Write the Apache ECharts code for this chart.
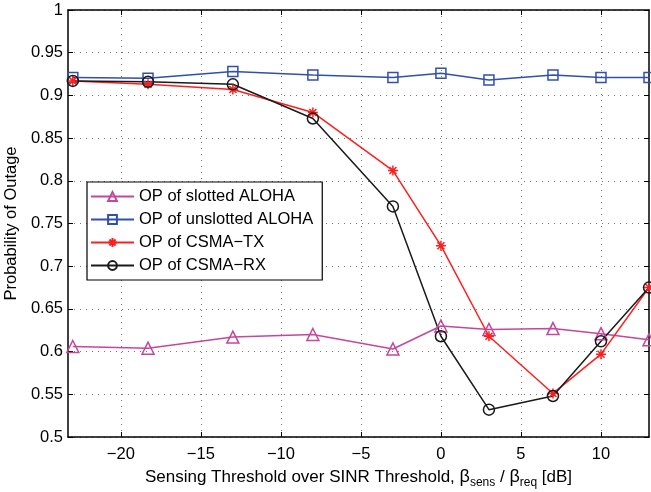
<!DOCTYPE html>
<html>
<head>
<meta charset="utf-8">
<script src="https://cdn.jsdelivr.net/npm/echarts@6/dist/echarts.min.js"></script>
<style>
  html, body { margin: 0; padding: 0; background: #fff; }
  #chart { width: 651px; height: 492px; }
</style>
</head>
<body>
<div id="chart"></div>
<script>
// Sensing threshold relative to SINR threshold (dB)
const thresholdsDb = [-23, -18.3, -13, -8, -3, 0, 3, 7, 10, 13];

// Outage probability for each access scheme
const slottedAloha   = [0.606, 0.604, 0.617, 0.620, 0.603, 0.630, 0.626, 0.627, 0.621, 0.614];
const unslottedAloha = [0.921, 0.920, 0.928, 0.924, 0.921, 0.926, 0.918, 0.924, 0.921, 0.921];
const csmaTx         = [0.917, 0.913, 0.907, 0.880, 0.812, 0.724, 0.618, 0.551, 0.597, 0.675];
const csmaRx         = [0.917, 0.916, 0.913, 0.873, 0.770, 0.618, 0.532, 0.548, 0.612, 0.675];

const seriesNames = ['OP of slotted ALOHA', 'OP of unslotted ALOHA', 'OP of CSMA\u2212TX', 'OP of CSMA\u2212RX'];
const xTickValues = [-20, -15, -10, -5, 0, 5, 10];

const FONT = '"Liberation Sans", Arial, Helvetica, sans-serif';
const asterisk = 'path://M0 5L10 5M5 0L5 10M1.5 1.5L8.5 8.5M8.5 1.5L1.5 8.5';

function pairs(ys) {
  return thresholdsDb.map((x, i) => [x, ys[i]]);
}

function makeSeries(name, ys, color, symbol, size) {
  return {
    name: name,
    type: 'line',
    data: pairs(ys),
    symbol: symbol,
    symbolSize: size,
    showAllSymbol: true,
    lineStyle: { color: color, width: 1.5 },
    itemStyle: { color: 'rgba(255,255,255,0)', borderColor: color, borderWidth: 1.5 },
    emphasis: { disabled: true },
    animation: false,
    z: 3
  };
}

const chart = echarts.init(document.getElementById('chart'), null, { renderer: 'canvas' });

const gridLine = { show: true, lineStyle: { color: '#777', width: 1, type: [1, 5] } };

chart.setOption({
  backgroundColor: '#fff',
  animation: false,
  textStyle: { fontFamily: FONT },
  grid: { left: 68, right: 2, top: 10, bottom: 55, show: false, containLabel: false, outerBoundsMode: 'none' },
  legend: {
    orient: 'vertical',
    left: 87,
    top: 182,
    data: seriesNames,
    itemWidth: 43,
    itemHeight: 11,
    itemGap: 6,
    padding: [6, 9, 6, 3],
    backgroundColor: '#fff',
    borderColor: '#000',
    borderWidth: 1.2,
    textStyle: { fontFamily: FONT, fontSize: 16.5, color: '#000' },
    selectedMode: false
  },
  xAxis: [
    {
      type: 'value',
      min: -23.3,
      max: 13,
      position: 'bottom',
      name: '{t|Sensing Threshold over SINR Threshold, }{b|\u03b2}{s|sens}{t| / }{b|\u03b2}{s|req}{t| [dB]}',
      nameLocation: 'middle',
      nameGap: 25,
      nameTextStyle: {
        rich: {
          t: { fontFamily: FONT, fontSize: 17, color: '#000' },
          b: { fontFamily: FONT, fontSize: 18, color: '#000' },
          s: { fontFamily: FONT, fontSize: 12, color: '#000', padding: [11, 0, 0, 0] }
        }
      },
      axisLine: { show: true, onZero: false, lineStyle: { color: '#000', width: 1.5 } },
      axisTick: { show: true, inside: true, length: 5, customValues: xTickValues, lineStyle: { color: '#000' } },
      axisLabel: {
        customValues: xTickValues,
        fontFamily: FONT, fontSize: 16.5, color: '#000', margin: 9,
        formatter: v => String(v).replace('-', '\u2212')
      },
      splitLine: gridLine
    },
    {
      type: 'value',
      min: -23.3,
      max: 13,
      position: 'top',
      axisLine: { show: true, onZero: false, lineStyle: { color: '#000', width: 1.5 } },
      axisTick: { show: true, inside: true, length: 5, customValues: xTickValues, lineStyle: { color: '#000' } },
      axisLabel: { show: false, customValues: xTickValues },
      splitLine: { show: false }
    }
  ],
  yAxis: [
    {
      type: 'value',
      min: 0.5,
      max: 1,
      interval: 0.05,
      position: 'left',
      name: 'Probability of Outage',
      nameLocation: 'middle',
      nameGap: 44,
      nameTextStyle: { fontFamily: FONT, fontSize: 16.5, color: '#000' },
      axisLine: { show: true, onZero: false, lineStyle: { color: '#000', width: 1.5 } },
      axisTick: { show: true, inside: true, length: 5, lineStyle: { color: '#000' } },
      axisLabel: {
        fontFamily: FONT, fontSize: 16.5, color: '#000', margin: 5,
        formatter: v => String(parseFloat(v.toFixed(2)))
      },
      splitLine: gridLine
    },
    {
      type: 'value',
      min: 0.5,
      max: 1,
      interval: 0.05,
      position: 'right',
      axisLine: { show: true, onZero: false, lineStyle: { color: '#000', width: 1.5 } },
      axisTick: { show: true, inside: true, length: 5, lineStyle: { color: '#000' } },
      axisLabel: { show: false },
      splitLine: { show: false }
    }
  ],
  series: [
    makeSeries(seriesNames[0], slottedAloha, '#C4479E', 'triangle', 12),
    makeSeries(seriesNames[1], unslottedAloha, '#3050AA', 'rect', 10),
    makeSeries(seriesNames[2], csmaTx, '#FF1E1E', asterisk, 10),
    makeSeries(seriesNames[3], csmaRx, '#1A1A1A', 'circle', 11)
  ]
});
</script>
</body>
</html>
